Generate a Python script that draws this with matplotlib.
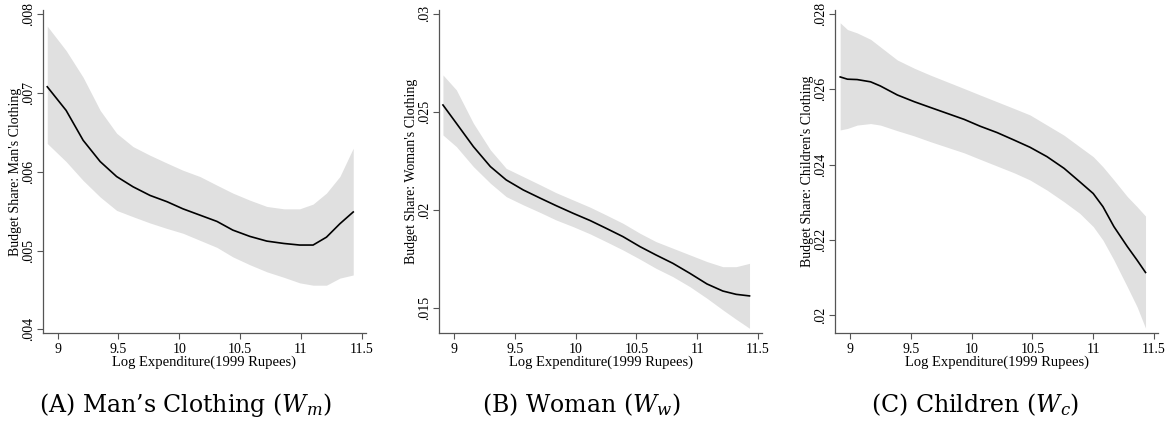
import numpy as np
import matplotlib
matplotlib.use('Agg')
import matplotlib.pyplot as plt

plt.rcParams['font.family'] = 'Liberation Serif'
plt.rcParams['mathtext.fontset'] = 'dejavuserif'

# Panel A: man's clothing
x_a = [8.915, 9.07, 9.21, 9.35, 9.485, 9.62, 9.76, 9.9, 10.03, 10.17,
       10.31, 10.44, 10.58, 10.72, 10.86, 10.99, 11.1, 11.21, 11.32, 11.43]
fit_a = [0.00708, 0.00678, 0.0064, 0.00613, 0.00594, 0.00581, 0.0057, 0.00562, 0.00553, 0.00545,
         0.00537, 0.00526, 0.00518, 0.00512, 0.00509, 0.00507, 0.00507, 0.00517, 0.00534, 0.00549]
hi_a = [0.00785, 0.00754, 0.0072, 0.00678, 0.00649, 0.00632, 0.00621, 0.00611, 0.00602, 0.00594,
        0.00583, 0.00573, 0.00564, 0.00556, 0.00553, 0.00553, 0.00559, 0.00573, 0.00594, 0.0063]
lo_a = [0.00636, 0.00613, 0.00589, 0.00568, 0.00551, 0.00543, 0.00535, 0.00528, 0.00522, 0.00513,
        0.00504, 0.00492, 0.00482, 0.00473, 0.00466, 0.00459, 0.00456, 0.00456, 0.00465, 0.00469]

# Panel B: woman's clothing
x_b = [8.91, 9.02, 9.16, 9.3, 9.43, 9.57, 9.71, 9.84, 9.98, 10.12,
       10.25, 10.39, 10.53, 10.66, 10.8, 10.94, 11.08, 11.21, 11.32, 11.43]
fit_b = [0.02536, 0.02443, 0.02324, 0.02222, 0.02154, 0.02103, 0.02061, 0.02023, 0.01984, 0.01947,
         0.01908, 0.01865, 0.01814, 0.01772, 0.01729, 0.01678, 0.01624, 0.01588, 0.01571, 0.01563]
hi_b = [0.02689, 0.02613, 0.02443, 0.02307, 0.02213, 0.02171, 0.02129, 0.02089, 0.02052, 0.02015,
        0.01976, 0.01933, 0.01882, 0.0184, 0.01806, 0.01772, 0.01738, 0.01712, 0.01712, 0.01729]
lo_b = [0.02383, 0.02324, 0.02222, 0.02137, 0.02069, 0.02027, 0.01988, 0.0195, 0.01916, 0.01879,
        0.0184, 0.01797, 0.0175, 0.01704, 0.01661, 0.0161, 0.01551, 0.01492, 0.01444, 0.01398]

# Panel C: children's clothing
x_c = [8.92, 8.98, 9.06, 9.17, 9.25, 9.39, 9.53, 9.66, 9.8, 9.94, 10.07, 10.21,
       10.35, 10.48, 10.62, 10.76, 10.89, 11.0, 11.08, 11.17, 11.28, 11.36, 11.43]
fit_c = [0.02633, 0.02627, 0.02626, 0.0262, 0.02609, 0.02585, 0.02567, 0.02552, 0.02536, 0.0252,
         0.02502, 0.02485, 0.02465, 0.02446, 0.02421, 0.0239, 0.02354, 0.02323, 0.02288, 0.02235,
         0.02182, 0.02146, 0.02113]
hi_c = [0.02777, 0.02759, 0.0275, 0.02733, 0.02713, 0.02678, 0.02656, 0.02638, 0.0262, 0.02602,
        0.02585, 0.02567, 0.02549, 0.02532, 0.02505, 0.02478, 0.02447, 0.02421, 0.02394, 0.02359,
        0.02315, 0.02288, 0.02263]
lo_c = [0.02492, 0.02496, 0.02505, 0.02509, 0.02505, 0.0249, 0.02476, 0.02461, 0.02446, 0.02431,
        0.02414, 0.02396, 0.02378, 0.02359, 0.02332, 0.02301, 0.0227, 0.02235, 0.02199, 0.02146,
        0.02075, 0.02022, 0.01965]

x_ticks = [9, 9.5, 10, 10.5, 11, 11.5]
x_ticklabels = ['9', '9.5', '10', '10.5', '11', '11.5']
yticks_a = [0.004, 0.005, 0.006, 0.007, 0.008]
ylabels_a = ['.004', '.005', '.006', '.007', '.008']
yticks_b = [0.015, 0.02, 0.025, 0.03]
ylabels_b = ['.015', '.02', '.025', '.03']
yticks_c = [0.02, 0.022, 0.024, 0.026, 0.028]
ylabels_c = ['.02', '.022', '.024', '.026', '.028']

panels = [
    (x_a, fit_a, lo_a, hi_a, yticks_a, ylabels_a, (0.003953, 0.008055),
     "Budget Share: Man's Clothing", "(A) Man’s Clothing ($W_m$)", 43, 185),
    (x_b, fit_b, lo_b, hi_b, yticks_b, ylabels_b, (0.01374, 0.0302),
     "Budget Share: Woman's Clothing", "(B) Woman ($W_w$)", 439.3, 581),
    (x_c, fit_c, lo_c, hi_c, yticks_c, ylabels_c, (0.01952, 0.02811),
     "Budget Share: Children's Clothing", "(C) Children ($W_c$)", 835.3, 975),
]

W, H = 1172, 432
fig = plt.figure(figsize=(W / 100, H / 100), dpi=100)

for x, fit, lo, hi, yt, yl, ylim, ylab, cap, left, cap_x in panels:
    ax = fig.add_axes([left / W, (H - 333) / H, 323 / W, 323 / H])
    ax.fill_between(x, lo, hi, color='#e0e0e0', linewidth=0)
    ax.plot(x, fit, color='black', linewidth=1.2)
    ax.set_xlim(8.88, 11.535)
    ax.set_ylim(*ylim)
    ax.set_xticks(x_ticks)
    ax.set_xticklabels(x_ticklabels, fontsize=10)
    ax.set_yticks(yt)
    ax.set_yticklabels(yl, fontsize=10, rotation=90, va='center')
    for s in ['top', 'right']:
        ax.spines[s].set_visible(False)
    for s in ['left', 'bottom']:
        ax.spines[s].set_color('#555555')
        ax.spines[s].set_linewidth(0.9)
    ax.tick_params(axis='x', direction='out', length=4, width=0.8, color='#555555', pad=3)
    ax.tick_params(axis='y', direction='out', length=4, width=0.8, color='#555555', pad=2)
    ax.set_xlabel('Log Expenditure(1999 Rupees)', fontsize=10.5, labelpad=0)
    ax.set_ylabel(ylab, fontsize=10, labelpad=0)
    fig.text(cap_x / W, 1 - 405 / H, cap, fontsize=17, family='DejaVu Serif',
             ha='center', va='center')

fig.savefig('out.png', dpi=100)
